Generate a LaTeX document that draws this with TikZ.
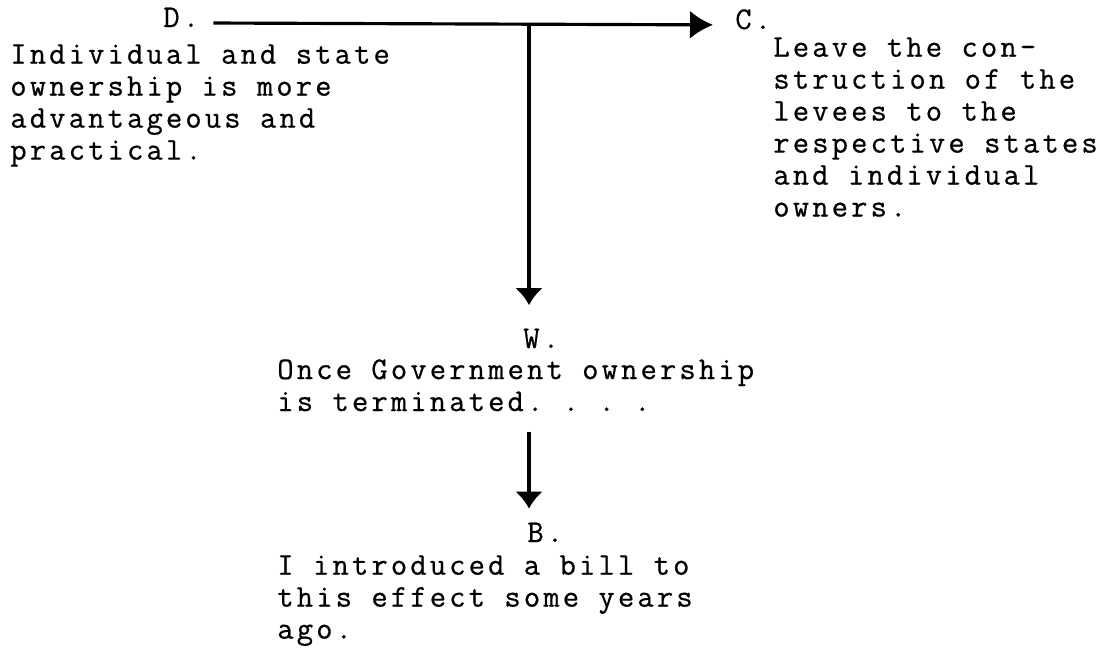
\documentclass[tikz,border=0pt]{standalone}
\usepackage{fontspec}
\setmonofont{Latin Modern Mono}[LetterSpace=10,FakeBold=0.6]
\usetikzlibrary{arrows.meta}

\begin{document}
\begin{tikzpicture}[x=0.02cm,y=-0.02cm,
   >={Latex[length=0.46cm,width=0.56cm]},
   font=\ttfamily\fontsize{18}{18.2}\selectfont,
   lab/.style={inner sep=0pt,anchor=base west,text height=10pt,text depth=5.4pt},
   para/.style={inner sep=0pt,anchor=north west,align=left},
   link/.style={->,line width=1.8pt},
   down/.style={link,>={Latex[length=0.34cm,width=0.56cm]}}]
  \useasboundingbox (0,0) rectangle (1104,650);
  % data and claim
  \node[lab] (dlab) at (163,27) {D.};
  \node[para] (data) at (10,44) {Individual and state\\ownership is more\\advantageous and\\practical.};
  \node[lab] (clab) at (735,29) {C.};
  \node[para] (claim) at (773,37) {Leave the con-\\struction of the\\levees to the\\respective states\\and individual\\owners.};
  \draw[link,shorten <=0.28cm,shorten >=0.44cm] (dlab.east) -- (clab.west);
  \coordinate (jn) at (529,23);
  % warrant and backing
  \node[lab] (wlab) at (523,348) {W.};
  \node[para] (warrant) at (277,359) {Once Government ownership\\is terminated. . . .};
  \node[lab] (blab) at (527,542) {B.};
  \node[para] (backing) at (277,555) {I introduced a bill to\\this effect some years\\ago.};
  \draw[down,shorten >=0.5cm] (jn) -- (jn |- wlab.north);
  \draw[down,shorten <=0.4cm,shorten >=0.31cm] (warrant.south -| jn) -- (blab.north -| jn);
\end{tikzpicture}
\end{document}
